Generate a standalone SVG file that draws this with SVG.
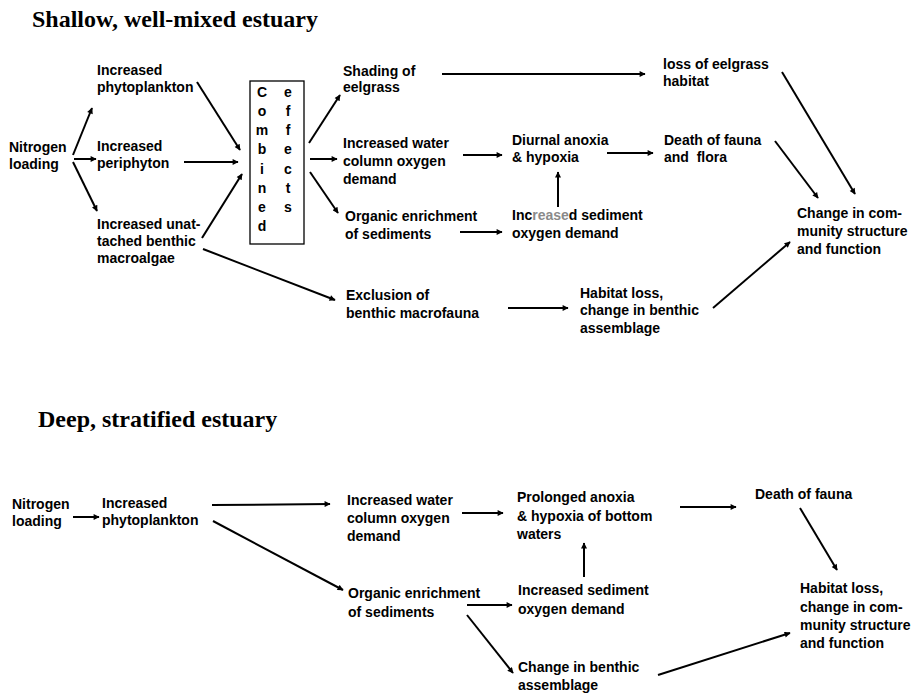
<svg xmlns="http://www.w3.org/2000/svg" width="917" height="693" viewBox="0 0 917 693">
<defs>
<style>
.t{font-family:"Liberation Sans",Arial,sans-serif;font-weight:bold;font-size:14px;fill:#000}
.h{font-family:"Liberation Serif","Times New Roman",serif;font-weight:bold;font-size:24px;fill:#000}
.c line{stroke:#000;stroke-width:2;marker-end:url(#ah)}
.box{fill:#fff;stroke:#000;stroke-width:1.3}
</style>
<marker id="ah" viewBox="0 0 10 10" refX="9" refY="5" markerWidth="8" markerHeight="6" orient="auto" markerUnits="userSpaceOnUse">
<path d="M0,0 L10,5 L0,10 z" fill="#000"/>
</marker>
</defs>
<rect width="917" height="693" fill="#fff"/>

<text class="h" x="32" y="27">Shallow, well-mixed estuary</text>
<text class="h" x="38" y="427">Deep, stratified estuary</text>

<!-- top section nodes -->
<g id="n_nitrogen1"><text class="t" x="9" y="152">Nitrogen</text><text class="t" x="9" y="169">loading</text></g>
<g id="n_phyto1"><text class="t" x="97" y="75">Increased</text><text class="t" x="97" y="92">phytoplankton</text></g>
<g id="n_peri"><text class="t" x="97" y="151">Increased</text><text class="t" x="97" y="168">periphyton</text></g>
<g id="n_macro"><text class="t" x="97" y="229">Increased unat-</text><text class="t" x="97" y="246">tached benthic</text><text class="t" x="97" y="263">macroalgae</text></g>
<g id="n_combined">
<rect class="box" x="250" y="81" width="54" height="163"/>
<g class="t" text-anchor="middle">
<text x="262" y="97">C</text><text x="262" y="116">o</text><text x="262" y="135">m</text><text x="262" y="154">b</text><text x="262" y="174">i</text><text x="262" y="193">n</text><text x="262" y="212">e</text><text x="262" y="231">d</text>
<text x="288" y="97">e</text><text x="288" y="116">f</text><text x="288" y="135">f</text><text x="288" y="154">e</text><text x="288" y="174">c</text><text x="288" y="193">t</text><text x="288" y="212">s</text>
</g>
</g>
<g id="n_shading"><text class="t" x="343" y="76">Shading of</text><text class="t" x="343" y="92">eelgrass</text></g>
<g id="n_water1"><text class="t" x="343" y="148">Increased water</text><text class="t" x="343" y="166">column oxygen</text><text class="t" x="343" y="184">demand</text></g>
<g id="n_organic1"><text class="t" x="345" y="221">Organic enrichment</text><text class="t" x="345" y="239">of sediments</text></g>
<g id="n_loss"><text class="t" x="663" y="69">loss of eelgrass</text><text class="t" x="663" y="86">habitat</text></g>
<g id="n_diurnal"><text class="t" x="512" y="145">Diurnal anoxia</text><text class="t" x="512" y="162">&amp; hypoxia</text></g>
<g id="n_death1"><text class="t" x="664" y="145">Death of fauna</text><text class="t" x="664" y="162" xml:space="preserve">and  flora</text></g>
<g id="n_sed1"><text class="t" x="512" y="220">Inc<tspan fill="#8a8a8a">rease</tspan>d sediment</text><text class="t" x="512" y="238">oxygen demand</text></g>
<g id="n_change1"><text class="t" x="797" y="218">Change in com-</text><text class="t" x="797" y="236">munity structure</text><text class="t" x="797" y="254">and function</text></g>
<g id="n_exclusion"><text class="t" x="346" y="300">Exclusion of</text><text class="t" x="346" y="318">benthic macrofauna</text></g>
<g id="n_habitat1"><text class="t" x="580" y="298">Habitat loss,</text><text class="t" x="580" y="315">change in benthic</text><text class="t" x="580" y="333">assemblage</text></g>

<!-- bottom section nodes -->
<g id="n_nitrogen2"><text class="t" x="12" y="509">Nitrogen</text><text class="t" x="12" y="526">loading</text></g>
<g id="n_phyto2"><text class="t" x="102" y="508">Increased</text><text class="t" x="102" y="525">phytoplankton</text></g>
<g id="n_water2"><text class="t" x="347" y="505">Increased water</text><text class="t" x="347" y="523">column oxygen</text><text class="t" x="347" y="541">demand</text></g>
<g id="n_organic2"><text class="t" x="348" y="598">Organic enrichment</text><text class="t" x="348" y="617">of sediments</text></g>
<g id="n_prolonged"><text class="t" x="517" y="502">Prolonged anoxia</text><text class="t" x="517" y="521">&amp; hypoxia of bottom</text><text class="t" x="517" y="539">waters</text></g>
<g id="n_death2"><text class="t" x="755" y="499">Death of fauna</text></g>
<g id="n_sed2"><text class="t" x="518" y="595">Increased sediment</text><text class="t" x="518" y="614">oxygen demand</text></g>
<g id="n_benthic2"><text class="t" x="518" y="672">Change in benthic</text><text class="t" x="518" y="690">assemblage</text></g>
<g id="n_habitat2"><text class="t" x="800" y="593">Habitat loss,</text><text class="t" x="800" y="612">change in com-</text><text class="t" x="800" y="630">munity structure</text><text class="t" x="800" y="648">and function</text></g>

<!-- connectors -->
<g id="connectors" class="c">
<line x1="73" y1="155" x2="92" y2="108"/>
<line x1="74" y1="159" x2="96" y2="159"/>
<line x1="73" y1="162" x2="97" y2="211"/>
<line x1="197" y1="82" x2="240" y2="150"/>
<line x1="184" y1="162" x2="238" y2="162"/>
<line x1="202" y1="238" x2="242" y2="174"/>
<line x1="309" y1="143" x2="340" y2="95"/>
<line x1="310" y1="159" x2="337" y2="159"/>
<line x1="310" y1="172" x2="338" y2="213"/>
<line x1="442" y1="74" x2="645" y2="74"/>
<line x1="463" y1="155" x2="502" y2="155"/>
<line x1="607" y1="153" x2="653" y2="153"/>
<line x1="558" y1="207" x2="558" y2="172"/>
<line x1="460" y1="232" x2="502" y2="232"/>
<line x1="782" y1="72" x2="855" y2="194"/>
<line x1="775" y1="141" x2="818" y2="198"/>
<line x1="203" y1="249" x2="335" y2="300"/>
<line x1="508" y1="308" x2="568" y2="308"/>
<line x1="713" y1="308" x2="790" y2="242"/>

<line x1="73" y1="517" x2="99" y2="517"/>
<line x1="212" y1="505" x2="330" y2="504"/>
<line x1="213" y1="521" x2="343" y2="590"/>
<line x1="462" y1="513" x2="503" y2="513"/>
<line x1="680" y1="507" x2="736" y2="507"/>
<line x1="800" y1="508" x2="837" y2="570"/>
<line x1="584" y1="577" x2="584" y2="543"/>
<line x1="467" y1="605" x2="512" y2="605"/>
<line x1="467" y1="615" x2="513" y2="673"/>
<line x1="658" y1="675" x2="790" y2="633"/>
</g>
</svg>
